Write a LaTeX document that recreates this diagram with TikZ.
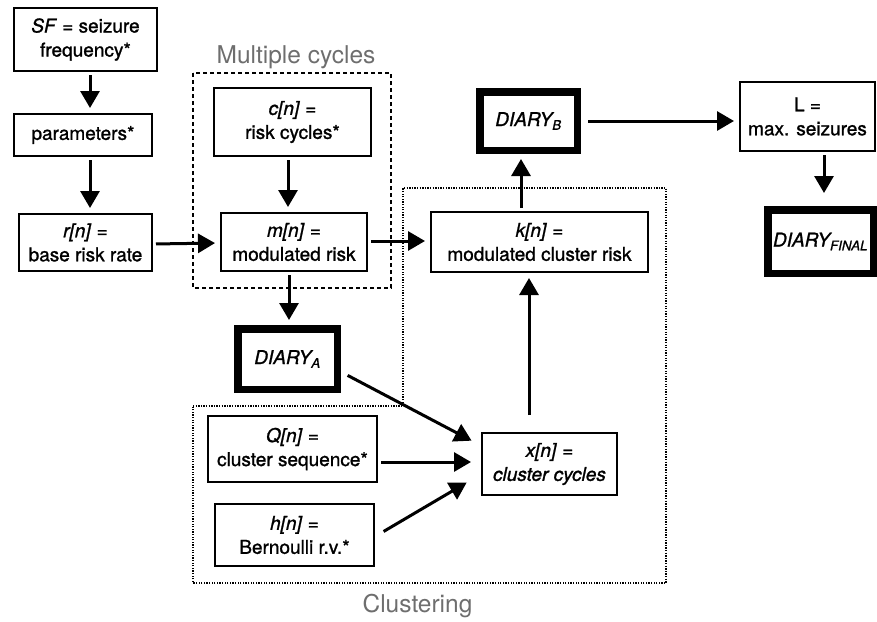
\documentclass[tikz,border=0pt]{standalone}
\usepackage{fontspec}
\setmainfont{TeX Gyre Heros}[UprightFeatures={FakeBold=1.2}, ItalicFeatures={FakeBold=1.2}]
\newfontfamily\grayfont{TeX Gyre Heros}
\usetikzlibrary{arrows.meta}
\definecolor{labelgray}{RGB}{110,110,110}

\begin{document}
\begin{tikzpicture}[x=1pt,y=-1pt,
  box/.style={draw, line width=2.2pt, align=center, inner sep=0pt, font=\fontsize{19}{24}\selectfont},
  diary/.style={box, line width=7.5pt},
  arr/.style={line width=3pt, -{Triangle[length=17pt,width=19pt]}, shorten >=5pt, shorten <=3pt},
  grouplabel/.style={text=labelgray, font=\grayfont\fontsize{24.5}{28}\selectfont}]
\useasboundingbox (0,0) rectangle (877,621);

\draw[line width=1.5pt, dash pattern=on 4pt off 3pt] (193,73) rectangle (391,288);
\draw[line width=1.3pt, dash pattern=on 1.3pt off 1.3pt] (193,406) -- (403,406) -- (403,188) -- (666,188) -- (666,583) -- (193,583) -- cycle;
\node[grouplabel] (multi) at (296,57) {Multiple cycles};
\node[grouplabel] (clus) at (417.5,606) {Clustering};

\node[box, minimum width=142.8pt, minimum height=62.8pt] (sf) at (85.5,39.5) {\textit{SF} = seizure\\frequency*};
\node[box, minimum width=137.8pt, minimum height=41.8pt] (par) at (83,135) {parameters*};
\node[box, minimum width=132.8pt, minimum height=56.8pt] (r) at (85.5,242.5) {\textit{r[n]} =\\base risk rate};
\node[box, minimum width=156.8pt, minimum height=67.8pt] (c) at (292.5,122) {\textit{c[n]} =\\risk cycles*};
\node[box, minimum width=145.8pt, minimum height=57.8pt] (m) at (294,242) {\textit{m[n]} =\\modulated risk};
\node[diary, minimum width=99.5pt, minimum height=60.5pt] (dA) at (287.5,359) {\textit{DIARY\textsubscript{A}}};
\node[box, minimum width=216.8pt, minimum height=59.8pt] (k) at (539.5,242) {\textit{k[n]} =\\modulated cluster risk};
\node[diary, minimum width=97.5pt, minimum height=58.5pt] (dB) at (528.5,121) {\textit{DIARY\textsubscript{B}}};
\node[box, minimum width=134.8pt, minimum height=68.8pt] (L) at (807.5,116.5) {L =\\max. seizures};
\node[diary, minimum width=105.5pt, minimum height=63.5pt] (dF) at (820.5,241.5) {\textit{DIARY\textsubscript{FINAL}}};
\node[box, minimum width=168.8pt, minimum height=65.8pt] (Q) at (292.5,449) {\textit{Q[n]} =\\cluster sequence*};
\node[box, minimum width=158.8pt, minimum height=61.8pt] (h) at (294.5,535) {\textit{h[n]} =\\Bernoulli r.v.*};
\node[box, minimum width=134.8pt, minimum height=61.8pt] (x) at (549.5,464) {\textit{x[n]} =\\\textit{cluster cycles}};

\draw[arr] ([xshift=4.5]sf.south) -- ([xshift=7]par.north);
\draw[arr] ([xshift=7]par.south) -- ([xshift=4.5]r.north);
\draw[arr] ([yshift=-1.5]r.east) -- ([yshift=-1]m.west);
\draw[arr] ([xshift=-4.5]c.south) -- ([xshift=-6]m.north);
\draw[arr] ([xshift=-5]m.south) -- ([xshift=1.5]dA.north);
\draw[arr] ([yshift=1]m.east) -- ([yshift=1]k.west);
\draw[arr] ([xshift=-18.5]k.north) -- ([xshift=-7.5]dB.south);
\draw[arr] ([xshift=4]dB.east) -- ([yshift=-4.5]L.west);
\draw[arr] ([xshift=16.5]L.south) -- ([xshift=3.5,yshift=8]dF.north);
\draw[arr, shorten <=17pt] ([xshift=-20.5]x.north) -- ([xshift=-10.5]k.south);
\draw[arr] ([xshift=4,yshift=-15]dA.east) -- ([xshift=-5,yshift=21]x.west);
\draw[arr] ([yshift=-13]Q.east) -- ([xshift=-5,yshift=2]x.west);
\draw[arr] ([xshift=6,yshift=2]h.east) -- ([xshift=-10,yshift=-16]x.west);
\end{tikzpicture}
\end{document}
